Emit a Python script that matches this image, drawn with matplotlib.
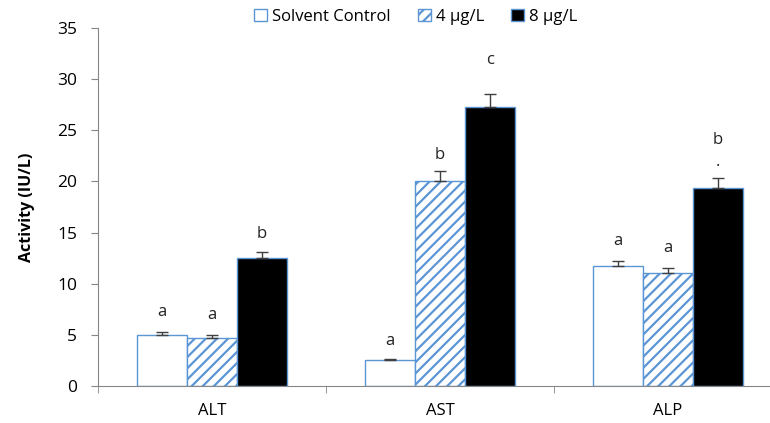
import numpy as np
import matplotlib
matplotlib.use("Agg")
import matplotlib.pyplot as plt
from matplotlib.patches import Patch

# data
enzymes = ["ALT", "AST", "ALP"]
groups = ["Solvent Control", "4 μg/L", "8 μg/L"]
control = [5.0, 2.5, 11.7]
low_dose = [4.7, 20.0, 11.0]
high_dose = [12.5, 27.3, 19.4]
control_err = [0.25, 0.12, 0.5]
low_err = [0.25, 1.0, 0.5]
high_err = [0.6, 1.2, 0.9]
control_sig = ["a", "a", "a"]
low_sig = ["a", "b", "a"]
high_sig = ["b", "c", "b"]

blue = "#5b95d5"
grey = "#868686"
plt.rcParams["font.family"] = ["Open Sans", "DejaVu Sans"]
plt.rcParams["hatch.color"] = blue
plt.rcParams["hatch.linewidth"] = 1.6

fig = plt.figure(figsize=(7.7, 4.23), dpi=100)
ax = fig.add_axes([98 / 770, 1 - 386 / 423, 684 / 770, 358 / 423])

x = np.arange(len(enzymes))
w = 0.22
series = [
    (control, control_err, control_sig, dict(color="white", edgecolor=blue), -w),
    (low_dose, low_err, low_sig, dict(color="white", edgecolor=blue, hatch="///"), 0),
    (high_dose, high_err, high_sig, dict(color="black", edgecolor=blue), w),
]
# label gap above the error bar (layout only)
gaps = [[1.2, 1.0, 1.2], [1.2, 0.8, 1.2], [1.0, 2.6, 3.0]]

for k, (vals, errs, sig, style, off) in enumerate(series):
    ax.bar(x + off, vals, w, linewidth=1.0, zorder=2, **style)
    ax.errorbar(x + off, vals, yerr=[np.zeros(3), errs], fmt="none",
                ecolor="#404040", elinewidth=1.0, capsize=4, capthick=1.0, zorder=3)
    for i in range(3):
        ax.text(x[i] + off, vals[i] + errs[i] + gaps[k][i], sig[i],
                ha="center", va="bottom", fontsize=12, color="#222222")

# stray dot above the ALP high-dose error bar
ax.text(x[2] + w, high_dose[2] + high_err[2] + 0.3, "·", ha="center", va="bottom",
        fontsize=12, color="#222222")

ax.set_xlim(-0.5, 2.5)
ax.set_ylim(0, 35)
ax.set_yticks(range(0, 36, 5))
ax.set_xticks(x)
ax.set_xticklabels(enzymes)
ax.set_xticks([-0.5, 0.5, 1.5, 2.5], minor=True)
ax.tick_params(axis="x", which="major", length=0, pad=12, labelsize=12)
ax.tick_params(axis="x", which="minor", length=5, color=grey, direction="out")
ax.tick_params(axis="y", length=5, color=grey, direction="out", labelsize=12.5, pad=10)
for s in ["top", "right"]:
    ax.spines[s].set_visible(False)
ax.spines["left"].set_color(grey)
ax.spines["bottom"].set_color(grey)
ax.set_ylabel("Activity (IU/L)", fontsize=11.5, fontweight="bold", labelpad=16)

handles = [
    Patch(facecolor="white", edgecolor=blue, label=groups[0]),
    Patch(facecolor="white", edgecolor=blue, hatch="///", label=groups[1]),
    Patch(facecolor="black", edgecolor=blue, label=groups[2]),
]
fig.legend(handles=handles, loc="upper center", bbox_to_anchor=(0.54, 1.015), ncol=3,
           frameon=False, fontsize=12, handlelength=0.8, handleheight=0.8,
           handletextpad=0.3, columnspacing=1.6)

fig.savefig("out.png", dpi=100)
